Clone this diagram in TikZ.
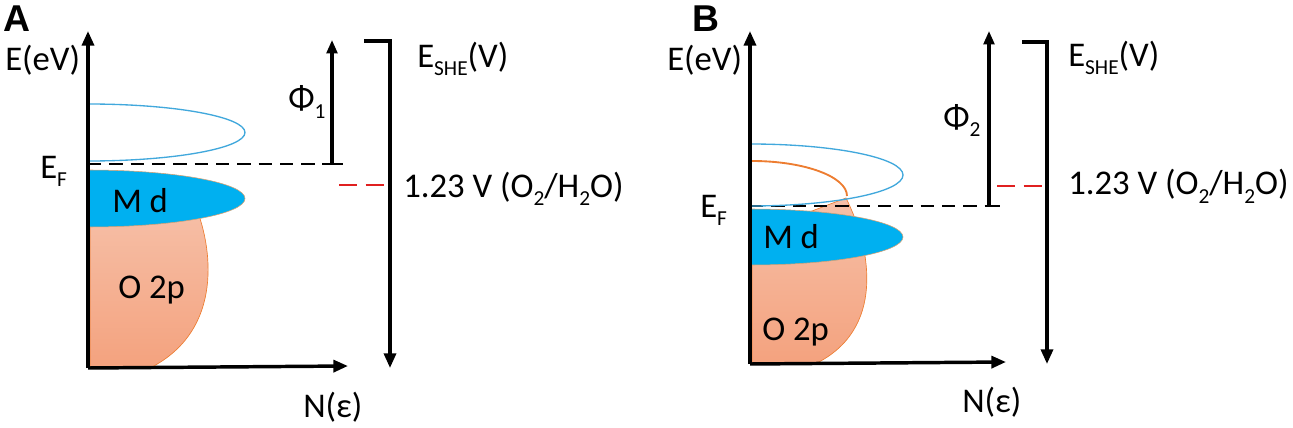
\documentclass[tikz,border=0pt]{standalone}
\usepackage{fontspec}
\setmainfont{Carlito}
\newfontfamily\panelfont{Liberation Sans}
\usetikzlibrary{arrows.meta}
\definecolor{mdblue}{HTML}{00B0F0}
\definecolor{lineblue}{HTML}{41A8DC}
\definecolor{salmontop}{HTML}{F6C0A8}
\definecolor{salmonbot}{HTML}{F4A27E}
\definecolor{orangeline}{HTML}{ED7D31}
\definecolor{mdedge}{HTML}{D8A070}
\definecolor{redline}{HTML}{E02020}
\newcommand{\lsub}[1]{\raisebox{-6pt}{\fontsize{16}{16}\selectfont #1}}
\begin{document}
\begin{tikzpicture}[x=0.75pt,y=-0.75pt,
  lbl/.style={inner sep=0pt,anchor=base west,font=\fontsize{26}{30}\selectfont},
  panel/.style={inner sep=0pt,anchor=base west,font=\panelfont\bfseries\fontsize{28}{30}\selectfont},
  axis/.style={line width=2.6pt,-{Triangle[length=11pt,width=9pt]}},
  phiarrow/.style={line width=2.3pt,-{Triangle[length=10pt,width=8pt]}},
  efline/.style={line width=1.8pt,dash pattern=on 10pt off 6pt},
  redd/.style={line width=1.6pt,redline,dash pattern=on 13.5pt off 6.5pt},
  tick/.style={line width=2pt},
  bracket/.style={line width=2.5pt},
  opband/.style={top color=salmontop,bottom color=salmonbot,draw=orangeline,line width=0.5pt},
  mdband/.style={fill=mdblue,draw=mdedge,line width=0.4pt},
  emptyband/.style={draw=lineblue,line width=1pt},
  occarc/.style={draw=orangeline,line width=1.4pt}]
\useasboundingbox (0,0) rectangle (1293,428);

% ================= Panel A =================
\node[panel] (pA) at (3,32) {A};
\coordinate (oA) at (88,368);
\coordinate (yA) at (88,31);
\coordinate (xA) at (348,366);
% O 2p band
\path[opband] (90,205) -- (195,205) .. controls (212,245) and (225,330) .. (150,368) -- (90,368) -- cycle;
% M d band
\path[mdband] (88,170) .. controls (174.7,170) and (245,182.8) .. (245,198.5) .. controls (245,214.2) and (174.7,227) .. (88,227) -- cycle;
% empty band
\path[emptyband] (88,104) .. controls (174.7,104) and (245,116.8) .. (245,132.5) .. controls (245,148.2) and (174.7,161) .. (88,161) -- cycle;
% axes
\draw[axis] (oA) -- (yA);
\draw[axis] (oA) -- (xA);
% Fermi level
\coordinate (efA) at (88,164);
\coordinate (efAend) at (322,164);
\coordinate (phiAbot) at (332,164);
\coordinate (tickAend) at (343,164);
\coordinate (phiAtop) at (332,40);
\draw[efline] (efA) -- (efAend);
\draw[tick] (efAend) -- (tickAend);
\draw[phiarrow] (phiAbot) -- (phiAtop);
% SHE scale
\coordinate (shAa) at (364,41);
\coordinate (shAb) at (390,41);
\coordinate (shAc) at (390,368);
\draw[bracket,-{Triangle[length=11pt,width=9pt]}] (shAa) -- (shAb) -- (shAc);
\coordinate (rdA1) at (339,185);
\coordinate (rdA2) at (385,185);
\draw[redd] (rdA1) -- (rdA2);
% labels
\node[lbl] (eevA) at (5,71) {E(eV)};
\node[lbl] (efAl) at (40,178) {E\lsub{F}};
\node[lbl] (mdA) at (112,212) {M d};
\node[lbl] (opA) at (118,298) {O 2p};
\node[lbl] (nA) at (303,417) {N(ε)};
\node[lbl] (phiA) at (288,110) {Φ\lsub{1}};
\node[lbl] (sheA) at (417,68) {E\lsub{SHE}(V)};
\node[lbl] (vA) at (403,197) {1.23 V (O\lsub{2}/H\lsub{2}O)};

% ================= Panel B =================
\node[panel] (pB) at (692,32) {B};
\coordinate (oB) at (750,364);
\coordinate (yB) at (750,31);
\coordinate (xB) at (1006,362);
% O 2p band
\path[opband] (752,215) -- (812,211) -- (846,198) .. controls (872,250) and (885,330) .. (815,364) -- (752,364) -- cycle;
% M d band
\path[mdband] (750,209) .. controls (834.5,209) and (903,221.5) .. (903,237) .. controls (903,252.5) and (834.5,265) .. (750,265) -- cycle;
% Fermi level
\coordinate (efB) at (750,206);
\coordinate (efBend) at (987,206);
\coordinate (phiBbot) at (989,206);
\coordinate (tickBend) at (1000,206);
\coordinate (phiBtop) at (989,31);
\draw[efline] (efB) -- (efBend);
\draw[tick] (efBend) -- (tickBend);
\draw[phiarrow] (phiBbot) -- (phiBtop);
% empty band + occupied arc
\path[emptyband] (750,144) .. controls (834.5,144) and (903,157.9) .. (903,175) .. controls (903,192.1) and (834.5,206) .. (750,206) -- cycle;
\path[occarc] (752,161) .. controls (804.5,161) and (847,176.7) .. (847,196);
% axes
\draw[axis] (oB) -- (yB);
\draw[axis] (oB) -- (xB);
% SHE scale
\coordinate (shBa) at (1022,42);
\coordinate (shBb) at (1047,42);
\coordinate (shBc) at (1047,364);
\draw[bracket,-{Triangle[length=11pt,width=9pt]}] (shBa) -- (shBb) -- (shBc);
\coordinate (rdB1) at (997,186);
\coordinate (rdB2) at (1042,186);
\draw[redd] (rdB1) -- (rdB2);
% labels
\node[lbl] (eevB) at (667,71) {E(eV)};
\node[lbl] (efBl) at (700,217) {E\lsub{F}};
\node[lbl] (mdB) at (763,248) {M d};
\node[lbl] (opB) at (762,340) {O 2p};
\node[lbl] (nB) at (962,412) {N(ε)};
\node[lbl] (phiB) at (943,128) {Φ\lsub{2}};
\node[lbl] (sheB) at (1068,67) {E\lsub{SHE}(V)};
\node[lbl] (vB) at (1068,195) {1.23 V (O\lsub{2}/H\lsub{2}O)};
\end{tikzpicture}
\end{document}
